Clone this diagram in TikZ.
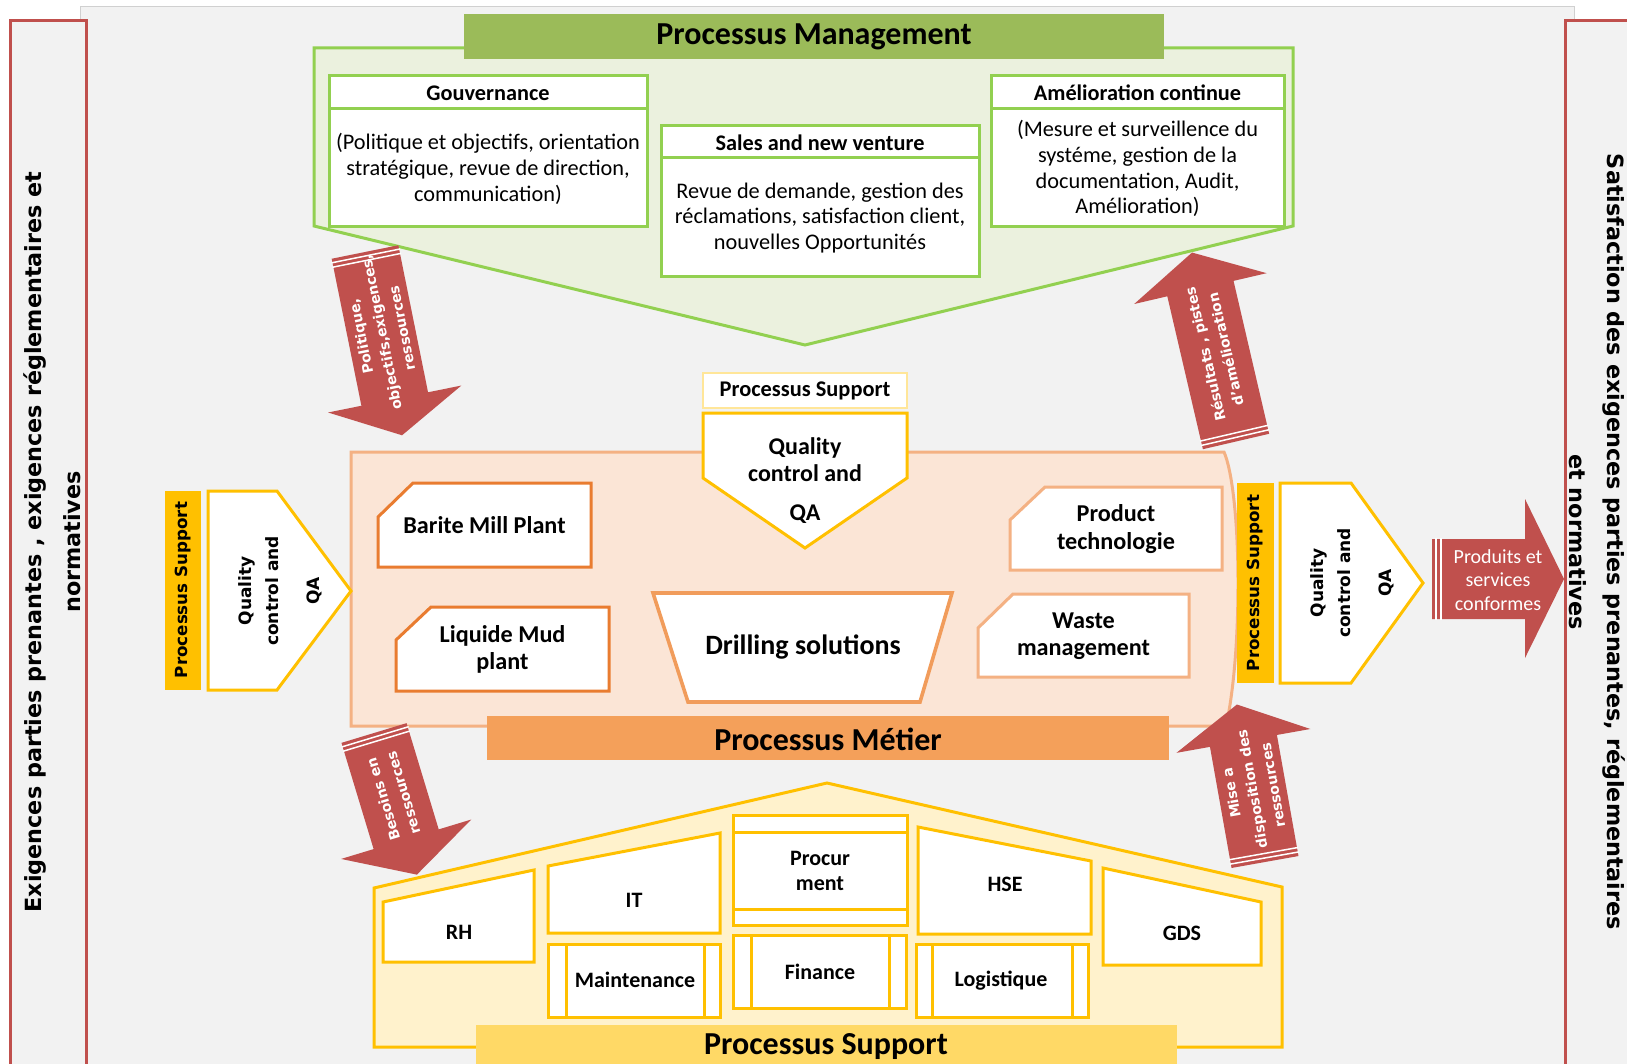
\documentclass[tikz,border=0pt]{standalone}
\usepackage{fontspec}
\setmainfont{Carlito}
\newfontfamily\vfont{DejaVu Sans}
\definecolor{panelgray}{HTML}{F2F2F2}
\definecolor{panelline}{HTML}{D0D0D0}
\definecolor{framered}{HTML}{C0504D}
\definecolor{arrowred}{HTML}{C0504D}
\definecolor{bannergreen}{HTML}{9BBB59}
\definecolor{mgreen}{HTML}{92D050}
\definecolor{mfill}{HTML}{EBF1DE}
\definecolor{peach}{HTML}{FBE5D6}
\definecolor{peachline}{HTML}{F4B183}
\definecolor{orangeline}{HTML}{E97C30}
\definecolor{drillline}{HTML}{F19C5B}
\definecolor{metierbanner}{HTML}{F4A05A}
\definecolor{gold}{HTML}{FFC000}
\definecolor{housefill}{HTML}{FFF2CC}
\definecolor{supportbanner}{HTML}{FFD966}
\definecolor{labelline}{HTML}{FFE699}
\newcommand\myfs[2]{\fontsize{#1}{#2}\selectfont}
\newcommand\redarrow[7]{% name, tail, angle, length, text pos, text rotation, text
  \begin{scope}[shift={#2}, rotate=#3]
    \fill[arrowred] (0,-34) -- ({#4-37},-34) -- ({#4-37},-68) -- (#4,0) -- ({#4-37},68) -- ({#4-37},34) -- (0,34) -- cycle;
    \draw[white, line width=0.75pt] (4,-35) -- (4,35) (8.5,-35) -- (8.5,35);
    \node[arrowtext, rotate=#6] (#1) at (#5,0) {#7};
  \end{scope}}
\begin{document}
\begin{tikzpicture}[x=0.5pt,y=-0.5pt,
  every node/.style={inner sep=0pt, outer sep=0pt},
  txt/.style={align=center, font=\myfs{11.15pt}{12.9pt}},
  ttl/.style={align=center, font=\bfseries\myfs{11.15pt}{12.9pt}},
  bannertxt/.style={font=\bfseries\myfs{16pt}{19pt}},
  metiertxt/.style={align=center, font=\bfseries\myfs{12.1pt}{13.8pt}},
  housetxt/.style={align=center, font=\bfseries\myfs{11pt}{12.5pt}},
  sidetxt/.style={font=\vfont\bfseries\myfs{11.15pt}{19.5pt}},
  bartxt/.style={font=\vfont\bfseries\myfs{8.35pt}{10pt}},
  qatxt/.style={align=center, font=\vfont\bfseries\myfs{8.5pt}{13.5pt}},
  arrowtext/.style={align=center, text=white, font=\vfont\bfseries\myfs{7pt}{10.5pt}},
  mbox/.style={draw=mgreen, line width=1.5pt, fill=white},
  obox/.style={draw=orangeline, line width=1.5pt, fill=white},
  lobox/.style={draw=peachline, line width=1.5pt, fill=white},
  gbox/.style={draw=gold, line width=1.5pt, fill=white},
  gline/.style={draw=gold, line width=1.5pt},
]
\useasboundingbox (0,0) rectangle (1627,1064);
\clip (0,0) rectangle (1627,1064);
% background panel
\draw[panelline, fill=panelgray, line width=0.5pt] (80,7) rectangle (1574,1080);
% side frames
\draw[framered, fill=panelgray, line width=1.5pt] (10,21) rectangle (86,1080);
\draw[framered, fill=panelgray, line width=1.5pt] (1565,21) rectangle (1650,1080);
\node[sidetxt, rotate=90] (lefttextA) at (35,542) {Exigences parties prenantes , exigences réglementaires et};
\node[sidetxt, rotate=90] (lefttextB) at (72,542) {normatives};
\node[sidetxt, rotate=-90] (righttextA) at (1614,542) {Satisfaction des exigences parties prenantes, réglementaires};
\node[sidetxt, rotate=-90] (righttextB) at (1578,542) {et normatives};

% ---------- management ----------
\draw[mgreen, fill=mfill, line width=1.5pt] (314,48) -- (1293,48) -- (1293,226) -- (805,345) -- (314,226) -- cycle;
\fill[bannergreen] (464,14.5) rectangle (1164,59);
\node[bannertxt] (mgmt) at (814,37) {Processus Management};

\draw[mbox] (329,76) rectangle (647,227);
\draw[mgreen, line width=1.5pt] (329,109) -- (647,109);
\node[ttl] (gouv) at (488,93) {Gouvernance};
\node[txt] (gouvtxt) at (488,169) {(Politique et objectifs, orientation\\stratégique, revue de direction,\\communication)};

\draw[mbox] (661.5,126) rectangle (979,277);
\draw[mgreen, line width=1.5pt] (661.5,158) -- (979,158);
\node[ttl] (sales) at (820,143) {Sales and new venture};
\node[txt] (salestxt) at (820,218) {Revue de demande, gestion des\\réclamations, satisfaction client,\\nouvelles Opportunités};

\draw[mbox] (991,76) rectangle (1284,227);
\draw[mgreen, line width=1.5pt] (991,109) -- (1284,109);
\node[ttl] (amel) at (1137.5,93) {Amélioration continue};
\node[txt] (ameltxt) at (1137.5,168.5) {(Mesure et surveillence du\\systéme, gestion de la\\documentation, Audit,\\Amélioration)};

% ---------- metier ----------
\draw[peachline, fill=peach, line width=1.5pt] (351,452) -- (1224,452) .. controls (1232,470) and (1238,520) .. (1238,583) .. controls (1238,650) and (1232,700) .. (1226,726) -- (351,726) -- cycle;

\draw[obox] (413,483) -- (591,483) -- (591,567) -- (378,567) -- (378,517) -- cycle;
\node[metiertxt] (barite) at (484.5,525) {Barite Mill Plant};
\draw[obox] (431,607) -- (609,607) -- (609,691) -- (396,691) -- (396,640) -- cycle;
\node[metiertxt] (liquide) at (502.5,649.5) {Liquide Mud\\plant};
\draw[lobox] (1045,487) -- (1222,487) -- (1222,570) -- (1010,570) -- (1010,520) -- cycle;
\node[metiertxt] (product) at (1116,529) {Product\\technologie};
\draw[lobox] (1013,594) -- (1189,594) -- (1189,677) -- (978,677) -- (978,628) -- cycle;
\node[metiertxt] (waste) at (1083.5,636) {Waste\\management};
\draw[draw=drillline, line width=1.8pt, fill=white] (653,593) -- (952,593) -- (920,702) -- (688,702) -- cycle;
\node[font=\bfseries\myfs{14pt}{16pt}] (drilling) at (803,647) {Drilling solutions};

% center QA
\draw[labelline, fill=white, line width=0.6pt] (703,373) rectangle (907,408);
\node[ttl, font=\bfseries\myfs{11.2pt}{13pt}] (pslabel) at (805,391) {Processus Support};
\draw[gbox] (703,413) -- (907,413) -- (907,478) -- (805,548) -- (703,478) -- cycle;
\node[align=center, font=\bfseries\myfs{12pt}{13.5pt}] (qacenter) at (805,481) {Quality\\control and\\[6pt]QA};

\fill[metierbanner] (487,716) rectangle (1169,760);
\node[bannertxt] (metier) at (828,739) {Processus Métier};

% ---------- side QA ----------
\fill[gold] (165,491) rectangle (201,690);
\node[bartxt, rotate=90] (psleft) at (183,590) {Processus Support};
\draw[gbox] (208,491) -- (277,491) -- (351,591) -- (277,690) -- (208,690) -- cycle;
\node[qatxt, rotate=90] (qaleft) at (280,591) {Quality\\control and\\[7pt]QA};

\fill[gold] (1237,483) rectangle (1274,683);
\node[bartxt, rotate=90] (psright) at (1255.5,583) {Processus Support};
\draw[gbox] (1280,483) -- (1351,483) -- (1423,583) -- (1351,683) -- (1280,683) -- cycle;
\node[qatxt, rotate=90] (qaright) at (1352,583) {Quality\\control and\\[7pt]QA};

% produits arrow
\fill[arrowred] (1432,539) -- (1525,539) -- (1525,499) -- (1564,579) -- (1525,658) -- (1525,619) -- (1432,619) -- cycle;
\draw[white, line width=0.75pt] (1436,538) -- (1436,620) (1441,538) -- (1441,620);
\node[align=center, text=white, font=\myfs{10pt}{11.75pt}] (produits) at (1498,580) {Produits et\\services\\conformes};

% ---------- support house ----------
\draw[gold, fill=housefill, line width=1.5pt] (374,1047) -- (374,888) -- (827,783) -- (1282,887) -- (1282,1047) -- cycle;
\fill[supportbanner] (476,1025) rectangle (1177,1080);
\node[bannertxt] (support) at (826,1047) {Processus Support};

\draw[gbox] (383,902) -- (534,870) -- (534,962) -- (383,962) -- cycle;
\node[housetxt] (rh) at (459,932) {RH};
\draw[gbox] (548,866) -- (720,833) -- (720,933) -- (548,933) -- cycle;
\node[housetxt] (it) at (634,900) {IT};
\draw[gbox] (733,815) rectangle (907,925);
\draw[gline] (733,832) -- (907,832) (733,909) -- (907,909);
\node[housetxt] (procur) at (820,870.5) {Procur\\ment};
\draw[gbox] (918,827) -- (1091,861) -- (1091,934) -- (918,934) -- cycle;
\node[housetxt] (hse) at (1005,884) {HSE};
\draw[gbox] (1103,868) -- (1261,902) -- (1261,965) -- (1103,965) -- cycle;
\node[housetxt] (gds) at (1182,933) {GDS};
\draw[gbox] (548,944) rectangle (720,1017);
\draw[gline] (566,944) -- (566,1017) (704,944) -- (704,1017);
\node[housetxt] (maint) at (635,980) {Maintenance};
\draw[gbox] (733,935) rectangle (906,1008);
\draw[gline] (751,935) -- (751,1008) (889,935) -- (889,1008);
\node[housetxt] (finance) at (820,972) {Finance};
\draw[gbox] (916,944) rectangle (1088,1017);
\draw[gline] (932,944) -- (932,1017) (1072,944) -- (1072,1017);
\node[housetxt] (logis) at (1001,981) {Logistique};

% ---------- red arrows ----------
\redarrow{arrA}{(365,252)}{-78.57}{187}{82}{101.43}{Politique,\\objectifs,exigences,\\ressources}
\redarrow{arrB}{(1236,441.5)}{103.1}{194}{92}{103.1}{Résultats , pistes\\d’amélioration}
\redarrow{arrC}{(374,733)}{-73.15}{148}{66}{106.85}{Besoins en\\ressources}
\redarrow{arrD}{(1265,862)}{100.1}{160}{74}{100.1}{Mise a\\disposition des\\ressources}
\end{tikzpicture}
\end{document}
